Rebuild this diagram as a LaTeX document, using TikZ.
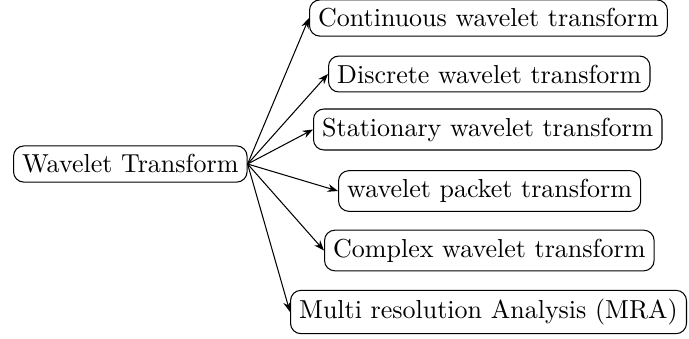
\documentclass[tikz,border=0pt]{standalone}
\usetikzlibrary{arrows.meta}
\begin{document}
\begin{tikzpicture}[x=0.3846pt,y=-0.3846pt,
  box/.style={draw,rounded corners=4pt,anchor=west,inner sep=3.33pt},
  link/.style={-{Stealth[length=4pt,width=3pt]},line width=0.4pt}]
\useasboundingbox (0,0) rectangle (689,338);
\node[box] (root) at (13,164) {Wavelet Transform};
\node[box] (c1) at (309,18) {Continuous wavelet transform};
\node[box] (c2) at (328,74) {Discrete wavelet transform};
\node[box] (c3) at (313,129.5) {Stationary wavelet transform};
\node[box] (c4) at (338,191) {wavelet packet transform};
\node[box] (c5) at (324,250.5) {Complex wavelet transform};
\node[box] (c6) at (290,312) {Multi resolution Analysis (MRA)};
\foreach \c in {c1,c2,c3,c4,c5,c6}
  \draw[link] (root.east) -- (\c.west);
\end{tikzpicture}
\end{document}
